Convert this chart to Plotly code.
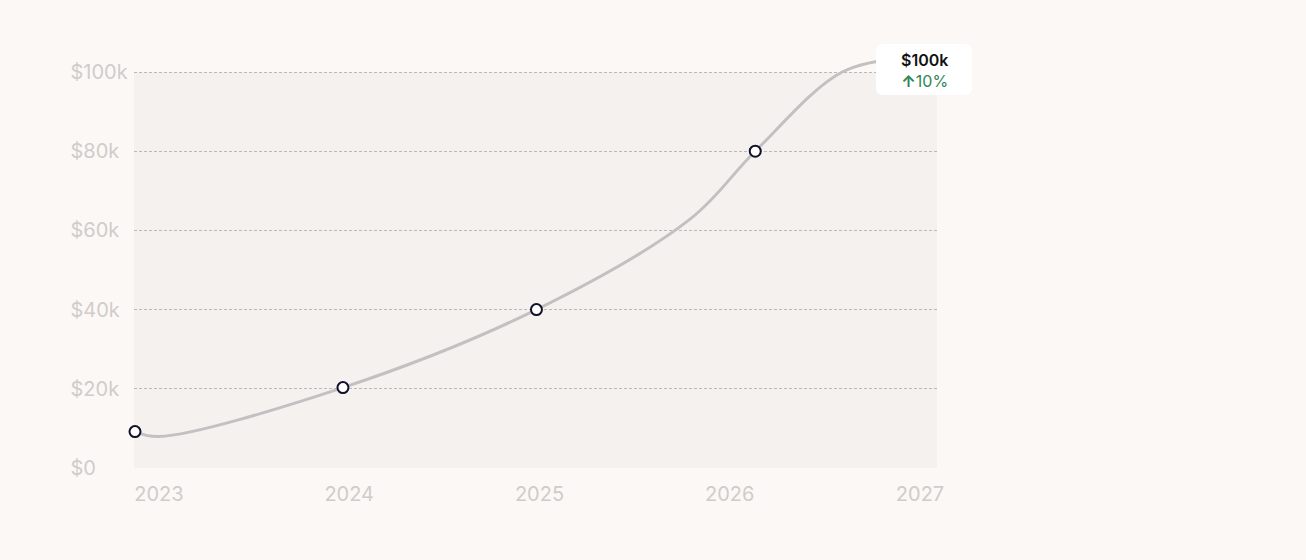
import plotly.graph_objects as go

# ---- data ----
years = [2022.874, 2023.0, 2023.967, 2024.984, 2025.793, 2026.134, 2026.591, 2026.921]
values = [9200, 7950, 20300, 40000, 62900, 80000, 100000, 103500]
marked = [0, 2, 3, 5]          # points drawn with a circle marker
x_ticks = [2023, 2024, 2025, 2026, 2027]
x_tick_labels = ["2023", "2024", "2025", "2026", "2027"]
y_ticks = [0, 20000, 40000, 60000, 80000, 100000]
y_tick_labels = ["$0", "$20k", "$40k", "$60k", "$80k", "$100k"]
tooltip_value = "$100k"
tooltip_change = "10%"

W, H = 1306, 560
PAPER = "#fcf8f5"
PLOTBG = "#f5f1ef"
GRID = "#bdb9b9"
TICKC = "#d0cccb"
FONT = "Inter"

# pixel layout
px_left, px_right = 134, 937
px_y0, px_y100 = 468, 72
ppk = (px_y0 - px_y100) / 100000.0
y_top_val = 112000
px_top = px_y0 - y_top_val * ppk

x_per_px = 1 / 190.5
x_range = [2023 - (158 - px_left + 1) * x_per_px, 2027 + (px_right - 920) * x_per_px]

fig = go.Figure()
fig.add_trace(go.Scatter(
    x=years, y=values,
    mode="lines",
    line=dict(shape="spline", smoothing=1.0, color="#c4c0c2", width=3),
    hoverinfo="skip", showlegend=False,
))
fig.add_trace(go.Scatter(
    x=[years[i] for i in marked], y=[values[i] for i in marked],
    mode="markers",
    marker=dict(size=11, color="white", line=dict(color="#10102a", width=2)),
    cliponaxis=False, hoverinfo="skip", showlegend=False,
))

fig.update_layout(
    width=W, height=H, autosize=False,
    margin=dict(l=0, r=0, t=0, b=0, autoexpand=False),
    paper_bgcolor=PAPER, plot_bgcolor=PAPER,
    font=dict(family=FONT),
    xaxis=dict(
        domain=[px_left / W, px_right / W],
        range=x_range, tickvals=x_ticks, ticktext=x_tick_labels,
        showgrid=False, zeroline=False, showline=False, ticks="",
        tickfont=dict(size=20, color=TICKC, family=FONT),
        ticklabelstandoff=12, automargin=False,
        anchor="y",
    ),
    yaxis=dict(
        domain=[(H - px_y0) / H, (H - px_top) / H],
        range=[0, y_top_val], tickvals=y_ticks, showticklabels=False,
        showgrid=True, gridcolor=GRID, gridwidth=1.2, griddash="3px,2px",
        zeroline=False, showline=False, ticks="", automargin=False,
    ),
    yaxis2=dict(
        overlaying="y", side="right", anchor="free", position=69.5 / W,
        range=[0, y_top_val], tickvals=y_ticks, ticktext=y_tick_labels,
        showgrid=False, zeroline=False, showline=False, ticks="",
        tickfont=dict(size=20, color=TICKC, family=FONT), automargin=False,
    ),
)
# invisible trace so yaxis2 renders
fig.add_trace(go.Scatter(x=[years[2]], y=[values[2]], yaxis="y2", mode="markers",
                         marker=dict(opacity=0), hoverinfo="skip", showlegend=False))

# plot-area background up to $100k
fig.add_shape(type="rect", xref="x domain", yref="y", x0=0, x1=1, y0=0, y1=100000,
              fillcolor=PLOTBG, line=dict(width=0), layer="below")

# tooltip box with rounded corners (pixel path)
bw, bh, r = 96, 51, 7
path = (f"M {r},0 L {bw - r},0 Q {bw},0 {bw},{-r} L {bw},{-(bh - r)} Q {bw},{-bh} {bw - r},{-bh} "
        f"L {r},{-bh} Q 0,{-bh} 0,{-(bh - r)} L 0,{-r} Q 0,0 {r},0 Z")
fig.add_shape(type="path", xref="paper", yref="paper",
              xsizemode="pixel", ysizemode="pixel",
              xanchor=876 / W, yanchor=(H - 44) / H,
              path=path, fillcolor="white", line=dict(width=0), layer="above")
fig.add_annotation(
    xref="paper", yref="paper", x=924 / W, y=(H - 70.5) / H,
    xanchor="center", yanchor="middle", showarrow=False,
    text=(f"<span style='font-weight:600'>{tooltip_value}</span><br>"
          f"<span style='color:#2e8555'><b>↑</b>{tooltip_change}</span>"),
    font=dict(size=16, color="#111111", family=FONT), align="center",
)

fig.write_html("out.html", default_width="1306px", default_height="560px",
               config={"displayModeBar": False},
               post_script="document.body.style.margin='0';")
